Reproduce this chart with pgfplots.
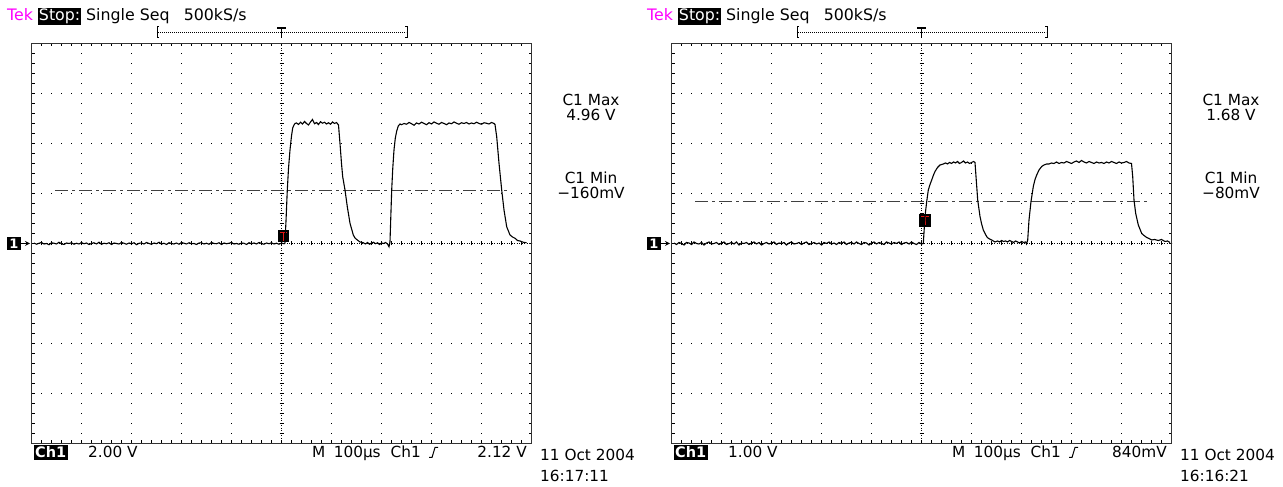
\documentclass[border=0pt]{standalone}
\usepackage{pgfplots}
\pgfplotsset{compat=1.18}
\usepackage{fontspec}
\setmainfont{DejaVu Sans}
\definecolor{tekmag}{RGB}{255,0,255}
\definecolor{trigred}{RGB}{230,20,20}
\tikzset{
  gridstyle/.style={black, line width=0.8pt, dash pattern=on 0.9pt off 9.1pt, dash phase=0.45pt},
  centerstyle/.style={black, line width=0.7pt, dash pattern=on 0.8pt off 1.7pt},
  tk/.style={black, line width=0.6pt},
  border/.style={black!80, line width=1pt},
  sc/.style={inner sep=0pt, font=\fontsize{15.3}{17}\selectfont},
}
\newcommand{\scopegrid}[1]{%
\begin{scope}[shift={(#1,0)}]
  \foreach \i in {1,...,9} \draw[gridstyle] ({31.5+50*\i},43.5) -- ({31.5+50*\i},443.5);
  \foreach \j in {1,...,7} \draw[gridstyle] (31.5,{43.5+50*\j}) -- (531.5,{43.5+50*\j});
  \draw[centerstyle] (281.5,43.5) -- (281.5,443.5);
  \draw[centerstyle] (31.5,243.5) -- (531.5,243.5);
  \foreach \k in {1,...,49} {
    \draw[tk] ({31.5+10*\k},241.5) -- ({31.5+10*\k},245.5);
    \draw[tk] ({31.5+10*\k},43.5) -- ({31.5+10*\k},46.5);
    \draw[tk] ({31.5+10*\k},443.5) -- ({31.5+10*\k},440.5);}
  \foreach \k in {1,...,39} {
    \draw[tk] (279.5,{43.5+10*\k}) -- (283.5,{43.5+10*\k});
    \draw[tk] (31.5,{43.5+10*\k}) -- (34.5,{43.5+10*\k});
    \draw[tk] (531.5,{43.5+10*\k}) -- (528.5,{43.5+10*\k});}
  \draw[border] (31.5,43.5) rectangle (531.5,443.5);
  % top status line
  \node[sc, anchor=base west] at (7,466) {\fontsize{15.8}{17}\selectfont\textcolor{tekmag}{Tek}\hspace{0.3em}{\setlength{\fboxsep}{1.2pt}\colorbox{black}{\textcolor{white}{Stop:}}}\hspace{0.3em}Single Seq\hspace{0.9em}500kS/s};
  % record bracket
  \draw[black, line width=1pt] (159,449) -- (157,449) -- (157,460) -- (159,460);
  \draw[black, line width=1pt] (405,449) -- (407,449) -- (407,460) -- (405,460);
  \draw[black, line width=0.7pt, dash pattern=on 0.8pt off 1.2pt] (158,454.5) -- (406,454.5);
  \draw[black, line width=1.2pt] (277,459) -- (286,459);
  \draw[black, line width=1.2pt] (281.5,459) -- (281.5,449);
  % channel marker
  \node[fill=black, text=white, inner xsep=2.5pt, inner ysep=2pt, font=\bfseries\fontsize{13}{13}\selectfont] at (14,243.5) {1};
  \draw[black, line width=1.2pt, -stealth] (20.5,243.5) -- (30,243.5);
  % bottom status line
  \node[anchor=base west, fill=black, text=white, inner xsep=1.5pt, inner ysep=1.8pt, font=\bfseries\fontsize{14.5}{16}\selectfont] at (33.5,29) {Ch1};
  \draw[black, line width=1pt] (429,29.5) -- (432,29.5) -- (435,39.5) -- (438,39.5);
  \node[sc, anchor=base west] at (312,29) {M\hspace{0.55em}100µs\hspace{0.65em}Ch1};
\end{scope}}

\begin{document}
\begin{tikzpicture}
\begin{scope}[x=1pt,y=1pt]
\path[use as bounding box] (0,0) rectangle (1283,487);
\scopegrid{0}
\scopegrid{640}
% left texts
\node[sc, anchor=base west] at (88,29) {2.00 V};
\node[sc, anchor=base east] at (527,29) {2.12 V};
\node[sc, anchor=base west] at (540,26) {11 Oct 2004};
\node[sc, anchor=base west] at (540,5) {16:17:11};
\node[sc, anchor=base] at (591,381) {C1 Max};
\node[sc, anchor=base] at (591,366) {4.96 V};
\node[sc, anchor=base] at (591,303) {C1 Min};
\node[sc, anchor=base] at (591,288) {−160mV};
% right texts
\node[sc, anchor=base west] at (728,29) {1.00 V};
\node[sc, anchor=base east] at (1167,29) {840mV};
\node[sc, anchor=base west] at (1180,26) {11 Oct 2004};
\node[sc, anchor=base west] at (1180,5) {16:16:21};
\node[sc, anchor=base] at (1231,381) {C1 Max};
\node[sc, anchor=base] at (1231,366) {1.68 V};
\node[sc, anchor=base] at (1231,303) {C1 Min};
\node[sc, anchor=base] at (1231,288) {−80mV};
% trigger markers
\fill[black] (278,245) rectangle (289,257);
\draw[trigred, line width=1pt] (280,254) -- (287,254);
\draw[trigred, line width=1pt] (283.5,254) -- (283.5,246);
\fill[black] (919,260) rectangle (931,273);
\draw[trigred, line width=1pt] (921,270) -- (929,270);
\draw[trigred, line width=1pt] (925,270) -- (925,262);
\end{scope}

% ---------- left scope data ----------
\begin{axis}[at={(31.5pt,43.5pt)}, anchor=south west, scale only axis, width=500pt, height=400pt,
  xmin=-500, xmax=500, ymin=-8, ymax=8, hide axis, clip=false]
\addplot[black!75, line width=1.1pt, dash pattern=on 13pt off 4pt on 3pt off 4pt] coordinates {(-453,2.12) (451,2.12)};
\addplot[black, line width=1.1pt] coordinates {
(-495,0.02)(-490,-0.03)(-485,0.01)(-480,0.04)(-475,-0.02)(-470,0.00)(-465,-0.05)(-460,0.03)(-455,0.01)(-450,-0.02)
(-445,0.05)(-440,-0.01)(-435,-0.04)(-430,0.02)(-425,0.00)(-420,0.03)(-415,-0.03)(-410,0.01)(-405,-0.02)(-400,0.04)
(-395,-0.01)(-390,0.02)(-385,-0.04)(-380,0.00)(-375,0.03)(-370,-0.02)(-365,0.05)(-360,-0.03)(-355,0.01)(-350,-0.01)
(-345,0.03)(-340,-0.04)(-335,0.02)(-330,0.00)(-325,-0.02)(-320,0.04)(-315,0.01)(-310,-0.03)(-305,0.02)(-300,-0.01)
(-295,0.03)(-290,-0.05)(-285,0.01)(-280,0.02)(-275,-0.02)(-270,0.04)(-265,0.00)(-260,-0.03)(-255,0.02)(-250,-0.01)
(-245,0.05)(-240,-0.02)(-235,0.01)(-230,-0.04)(-225,0.03)(-220,0.00)(-215,-0.02)(-210,0.02)(-205,-0.03)(-200,0.04)
(-195,0.01)(-190,-0.02)(-185,0.03)(-180,-0.01)(-175,0.00)(-170,-0.04)(-165,0.02)(-160,0.03)(-155,-0.02)(-150,0.01)
(-145,-0.03)(-140,0.04)(-135,0.00)(-130,-0.01)(-125,0.03)(-120,-0.04)(-115,0.02)(-110,-0.01)(-105,0.01)(-100,0.04)
(-95,-0.02)(-90,0.00)(-85,-0.03)(-80,0.02)(-75,0.01)(-70,-0.04)(-65,0.03)(-60,-0.01)(-55,0.02)(-50,-0.02)
(-45,0.04)(-40,0.00)(-35,-0.03)(-30,0.02)(-25,-0.01)(-20,0.03)(-15,-0.02)(-10,0.01)(-5,-0.03)(0,0.02)(5,-0.01)
(6.8,0.0)(9,0.9)(11.6,2.14)(14,3.0)(17,3.74)(20,4.3)(22.4,4.62)(25,4.74)(27,4.80)
(30,4.82)(34,4.76)(38,4.85)(42,4.78)(46,4.88)(50,4.80)(54,4.74)(58,4.86)(62,4.96)(66,4.79)
(70,4.84)(74,4.76)(78,4.87)(82,4.81)(86,4.85)(90,4.78)(94,4.83)(98,4.77)(102,4.86)(106,4.80)(110,4.84)(114,4.74)
(117,4.0)(120,3.2)(122.4,2.67)(127,2.14)(131.6,1.47)(137,0.81)(143.6,0.34)(147,0.22)(151.6,0.14)(157,0.06)(163.6,0.03)
(168,-0.02)(172,0.04)(176,-0.03)(180,0.02)(184,0.05)(188,-0.01)(192,0.03)(196,-0.04)(200,0.02)(204,0.00)(208,0.04)(212,-0.02)
(215,-0.13)(217,0.07)(218.5,1.0)(220.4,2.14)(222.5,3.0)(225,3.74)(227.5,4.2)(230.4,4.50)(233.6,4.70)(237,4.78)
(240,4.75)(245,4.80)(250,4.77)(255,4.84)(260,4.79)(265,4.73)(270,4.82)(275,4.78)(280,4.85)(285,4.80)
(290,4.75)(295,4.83)(300,4.78)(305,4.86)(310,4.81)(315,4.77)(320,4.84)(325,4.80)(330,4.75)(335,4.82)
(340,4.79)(345,4.86)(350,4.81)(355,4.77)(360,4.83)(365,4.80)(370,4.84)(375,4.78)(380,4.82)(385,4.79)
(390,4.85)(395,4.80)(400,4.77)(405,4.83)(410,4.81)(415,4.78)(420,4.84)(425,4.80)(427,4.76)
(430.4,4.27)(435,3.21)(440.4,2.14)(445,1.34)(450.4,0.67)(457,0.34)(462,0.26)(467,0.21)(472,0.12)(477,0.10)(483.6,0.05)(490,0.03)
};
\end{axis}

% ---------- right scope data ----------
\begin{axis}[at={(671.5pt,43.5pt)}, anchor=south west, scale only axis, width=500pt, height=400pt,
  xmin=-500, xmax=500, ymin=-4, ymax=4, hide axis, clip=false]
\addplot[black!75, line width=1.1pt, dash pattern=on 13pt off 4pt on 3pt off 4pt] coordinates {(-453,0.84) (451,0.84)};
\addplot[black, line width=1.1pt] coordinates {
(-495,0.01)(-490,-0.02)(-485,0.02)(-480,0.00)(-475,-0.03)(-470,0.02)(-465,0.01)(-460,-0.02)(-455,0.03)(-450,0.00)
(-445,-0.01)(-440,0.02)(-435,-0.03)(-430,0.01)(-425,0.03)(-420,-0.01)(-415,0.00)(-410,0.02)(-405,-0.02)(-400,0.01)
(-395,0.03)(-390,-0.02)(-385,0.00)(-380,0.02)(-375,-0.01)(-370,0.03)(-365,-0.03)(-360,0.01)(-355,0.00)(-350,0.02)
(-345,-0.02)(-340,0.01)(-335,0.03)(-330,-0.01)(-325,0.02)(-320,-0.03)(-315,0.00)(-310,0.02)(-305,-0.01)(-300,0.01)
(-295,0.03)(-290,-0.02)(-285,0.01)(-280,0.00)(-275,0.02)(-270,-0.03)(-265,0.01)(-260,0.03)(-255,-0.01)(-250,0.00)
(-245,0.02)(-240,-0.02)(-235,0.01)(-230,0.03)(-225,-0.02)(-220,0.00)(-215,0.02)(-210,-0.01)(-205,0.01)(-200,-0.03)
(-195,0.02)(-190,0.00)(-185,0.03)(-180,-0.01)(-175,0.01)(-170,-0.02)(-165,0.02)(-160,0.00)(-155,0.03)(-150,-0.02)
(-145,0.01)(-140,0.02)(-135,-0.01)(-130,0.03)(-125,0.00)(-120,-0.02)(-115,0.02)(-110,0.01)(-105,-0.03)(-100,0.01)
(-95,0.03)(-90,-0.01)(-85,0.02)(-80,0.00)(-75,-0.02)(-70,0.03)(-65,0.01)(-60,-0.01)(-55,0.02)(-50,0.00)
(-45,0.03)(-40,-0.02)(-35,0.01)(-30,0.02)(-25,-0.01)(-20,0.03)(-15,0.00)(-10,-0.02)(-5,0.02)(0,-0.01)
(3.6,0.0)(7,0.54)(10.4,0.84)(13.6,1.07)(17,1.18)(20.4,1.27)(24,1.37)(27,1.44)(32,1.52)(37,1.57)(43.6,1.59)
(48,1.61)(52,1.59)(56,1.62)(60,1.60)(64,1.63)(68,1.61)(72,1.64)(76,1.60)(80,1.62)(84,1.65)(88,1.61)(92,1.63)(96,1.60)(100,1.62)(104,1.64)(107,1.62)
(109,1.34)(112.4,0.87)(117,0.54)(120,0.40)(123.6,0.27)(128,0.18)(131.6,0.12)(136,0.09)(140.4,0.07)(147,0.03)
(152,0.05)(156,0.03)(160,0.06)(164,0.04)(168,0.05)(172,0.03)(176,0.06)(180,0.04)(184,0.02)(188,0.05)(192,0.03)(196,0.01)(200,0.04)(204,0.02)(208,0.03)(210,-0.01)
(212.4,0.07)(215,0.47)(219,0.84)(223.6,1.14)(227,1.28)(230.4,1.37)(235,1.47)(240.4,1.54)(245,1.57)(250.4,1.59)
(255,1.59)(260,1.61)(265,1.60)(270,1.63)(275,1.60)(280,1.62)(285,1.61)(290,1.64)(295,1.62)(300,1.60)
(305,1.63)(310,1.65)(315,1.62)(320,1.66)(325,1.63)(330,1.61)(335,1.64)(340,1.62)(345,1.60)(350,1.63)
(355,1.61)(360,1.62)(365,1.60)(370,1.63)(375,1.61)(380,1.64)(385,1.62)(390,1.60)(395,1.63)(400,1.61)
(405,1.62)(410,1.64)(415,1.61)(420,1.60)
(422.4,1.34)(425,0.87)(428.4,0.60)(433.6,0.37)(440.4,0.20)(445,0.16)(450.4,0.12)(455,0.10)(460.4,0.07)(466,0.08)(473.6,0.06)(480,0.08)(487,0.04)(492,0.05)(497,0.02)
};
\end{axis}
\end{tikzpicture}
\end{document}
